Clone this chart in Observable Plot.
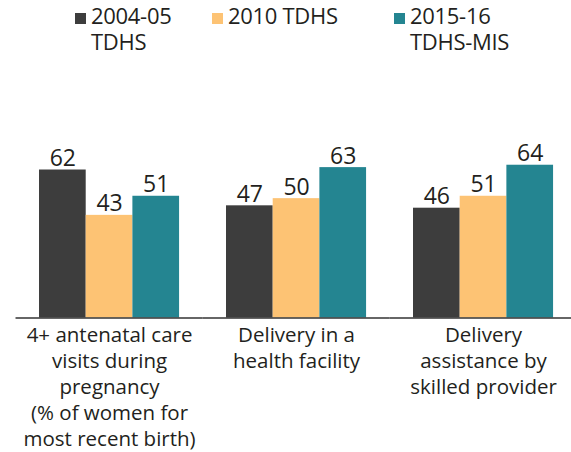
<!DOCTYPE html>
<html>
<head>
<meta charset="utf-8">
<script src="https://cdn.jsdelivr.net/npm/d3@7"></script>
<script src="https://cdn.jsdelivr.net/npm/@observablehq/plot@0.6"></script>
<style>
  html, body { margin: 0; padding: 0; background: #fff; }
  body { font-family: "Open Sans", Lato, sans-serif; color: #231f20; }
  #wrap { width: 571px; height: 452px; position: relative; overflow: hidden; }
  #legend { position: relative; width: 571px; height: 80px; }
  .sw { position: absolute; width: 11px; height: 11px; top: 13px; }
  .lt { position: absolute; top: 2px; font-size: 22px; line-height: 26px; white-space: pre; color: #231f20; letter-spacing: -0.3px; }
  svg { display: block; }
</style>
</head>
<body>
<div id="wrap">
  <div id="legend"></div>
  <div id="chart"></div>
</div>
<script>
const categories = ["antenatal", "facility", "skilled"];
const categoryLabels = [
  "4+ antenatal care\nvisits during\npregnancy\n(% of women for\nmost recent birth)",
  "Delivery in a\nhealth facility",
  "Delivery\nassistance by\nskilled provider"
];
const series = ["2004-05 TDHS", "2010 TDHS", "2015-16 TDHS-MIS"];
const legendLabels = ["2004-05\nTDHS", "2010 TDHS", "2015-16\nTDHS-MIS"];
const colors = ["#3d3d3d", "#fdc374", "#248591"];
const values2004 = [62, 47, 46];
const values2010 = [43, 50, 51];
const values2015 = [51, 63, 64];

const seriesValues = [values2004, values2010, values2015];
const data = [];
categories.forEach((c, i) => {
  series.forEach((s, j) => {
    data.push({category: c, series: s, value: seriesValues[j][i]});
  });
});
const labelOf = new Map(categories.map((c, i) => [c, categoryLabels[i]]));

// Legend (HTML above the SVG)
const legend = document.getElementById("legend");
const swX = [75, 212, 394];
const txX = [91, 228, 410];
series.forEach((s, i) => {
  const sw = document.createElement("div");
  sw.className = "sw";
  sw.style.left = swX[i] + "px";
  sw.style.background = colors[i];
  legend.appendChild(sw);
  const t = document.createElement("div");
  t.className = "lt";
  t.style.left = txX[i] + "px";
  t.textContent = legendLabels[i];
  legend.appendChild(t);
});

const base = 237.5;
const pxPerUnit = 2.387;

const chart = Plot.plot({
  width: 571,
  height: 372,
  marginLeft: 16,
  marginRight: 0,
  marginTop: 0,
  marginBottom: 0,
  style: {fontFamily: "'Open Sans', Lato, sans-serif", fontSize: "22px", color: "#231f20", background: "#fff"},
  fx: {domain: categories, paddingInner: 0.251, paddingOuter: 0.1095, align: 0.562, round: false, axis: null, label: null},
  x: {domain: series, padding: 0, round: false, axis: null},
  y: {domain: [0, 70], range: [base, base - 70 * pxPerUnit], axis: null},
  color: {domain: series, range: colors},
  marks: [
    Plot.barY(data, {fx: "category", x: "series", y: "value", fill: "series"}),
    Plot.text(data, {fx: "category", x: "series", y: "value", text: d => String(d.value),
      lineAnchor: "bottom", dy: -4, fontSize: 23, fill: "#231f20"}),
    Plot.ruleY([0], {stroke: "#333", strokeWidth: 1.5, insetLeft: -23.5, insetRight: -23.5}),
    Plot.text(categories, {fx: d => d, y: 0, text: d => labelOf.get(d),
      lineAnchor: "top", dy: 6, lineHeight: 1.26, fontSize: 20.5, fill: "#231f20", style: "letter-spacing:-0.3px"})
  ]
});
document.getElementById("chart").appendChild(chart);
</script>
</body>
</html>
